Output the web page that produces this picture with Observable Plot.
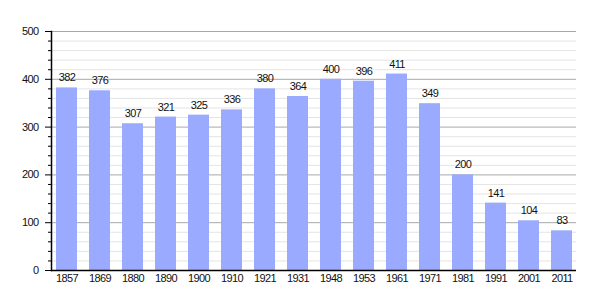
<!DOCTYPE html>
<html>
<head>
<meta charset="utf-8">
<script src="https://cdn.jsdelivr.net/npm/d3@7"></script>
<script src="https://cdn.jsdelivr.net/npm/@observablehq/plot@0.6"></script>
<style>
  html, body { margin: 0; padding: 0; background: #fff; }
  #chart svg { display: block; }
  #chart svg text { letter-spacing: -0.6px; }
</style>
</head>
<body>
<div id="chart"></div>
<script>
const years = ["1857","1869","1880","1890","1900","1910","1921","1931","1948","1953","1961","1971","1981","1991","2001","2011"];
const population = [382,376,307,321,325,336,380,364,400,396,411,349,200,141,104,83];
const majorTicks = [0,100,200,300,400,500];
const minorTicks = d3.range(0, 501, 20).filter(v => v % 100 !== 0);

const data = years.map((y, i) => ({year: y, value: population[i]}));

const chart = Plot.plot({
  width: 605,
  height: 300,
  marginLeft: 51,
  marginRight: 29,
  marginTop: 31,
  marginBottom: 30,
  style: {fontFamily: "Liberation Sans, Arial, sans-serif", fontSize: "11px", color: "#111", background: "#fff"},
  x: {domain: years, paddingInner: 0.375, paddingOuter: 0, label: null},
  y: {domain: [0, 500], label: null},
  marks: [
    Plot.ruleY(minorTicks, {stroke: "#e4e4e4", strokeWidth: 1}),
    Plot.ruleY(majorTicks, {stroke: "#a8a8a8", strokeWidth: 1}),
    Plot.barY(data, {x: "year", y: "value", fill: "#99aaff"}),
    Plot.text(data, {x: "year", y: "value", text: d => String(d.value), dy: -10, fill: "#111", fontSize: 11}),
    Plot.axisY({ticks: majorTicks, tickSize: 6, tickPadding: 7, tickFormat: d => String(d), stroke: "#000", fill: "#111", fontSize: 11, label: null}),
    Plot.axisY({ticks: minorTicks, tickSize: 3, tickFormat: () => "", stroke: "#000", label: null}),
    Plot.axisX({tickSize: 0, tickPadding: 4, fill: "#111", fontSize: 11, label: null}),
    Plot.frame({anchor: "left", stroke: "#000", strokeWidth: 1.5}),
    Plot.ruleY([0], {stroke: "#000", strokeWidth: 1.5})
  ]
});
document.getElementById("chart").appendChild(chart);
</script>
</body>
</html>
